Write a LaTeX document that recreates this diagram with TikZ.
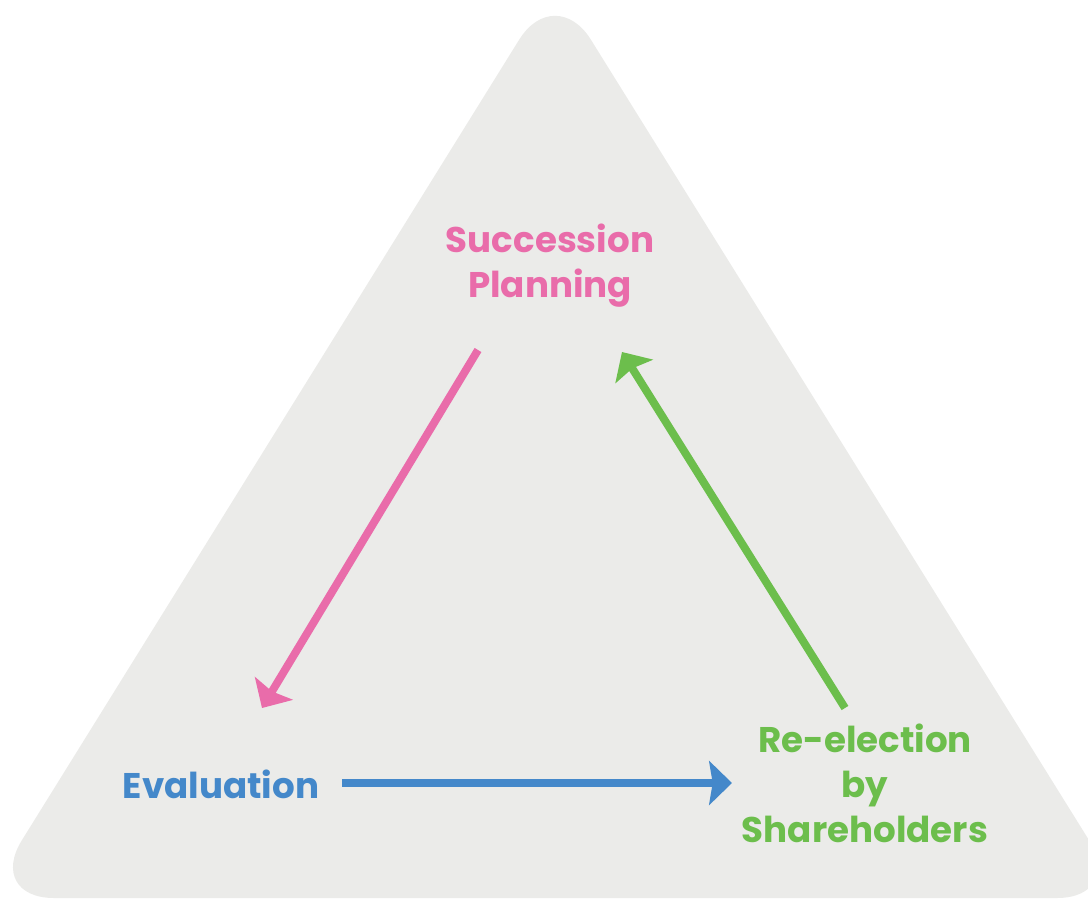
\documentclass[tikz,border=0pt]{standalone}
\usepackage{fontspec}
\setmainfont{Poppins}
\usetikzlibrary{arrows.meta}
\definecolor{plancol}{RGB}{233,108,170}
\definecolor{evalcol}{RGB}{68,136,202}
\definecolor{electcol}{RGB}{108,190,76}
\definecolor{tricol}{RGB}{235,235,233}

\begin{document}
\begin{tikzpicture}
  [x=0.02cm,y=-0.02cm,every node/.style={font=\bfseries\fontsize{20.3}{25.7}\selectfont,align=center}]
  \useasboundingbox (0,0) rectangle (1088,899);
  \clip (0,0) rectangle (1088,899);
  \fill[tricol,rounded corners=1.36cm] (555,-18) -- (1125,898) -- (-14,898) -- cycle;

  \node[text=plancol] (plan) at (550,266) {Succession\\Planning};
  \node[text=evalcol] (eval) at (221,784) {Evaluation};
  \node[text=electcol] (elect) at (865,783) {Re-election\\by\\Shareholders};

  \coordinate (planout) at (478,350);
  \coordinate (evalin) at (262,708);
  \coordinate (evalout) at (342,783);
  \coordinate (electin) at (732,783);
  \coordinate (electout) at (845,708);
  \coordinate (planin) at (622,352);

  \foreach \from/\to/\col in {planout/evalin/plancol,evalout/electin/evalcol,electout/planin/electcol}
    \draw[\col,line width=4.5pt,-{Stealth[length=13pt,width=25pt,inset=2pt]}] (\from) -- (\to);

\end{tikzpicture}
\end{document}
